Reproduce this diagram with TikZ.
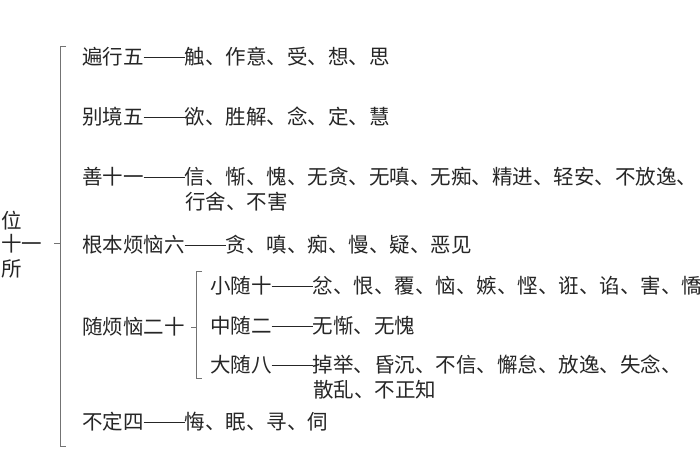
\documentclass[tikz,border=0pt]{standalone}
\usepackage{fontspec}
\newfontfamily\cjk{Noto Sans CJK SC}
\newcommand{\dd}{\rule[0.36em]{2em}{0.7pt}}
\begin{document}
\begin{tikzpicture}[x=1pt,y=-1pt,
  t/.style={anchor=west,inner sep=0pt,font=\cjk\fontsize{20.5}{24}\selectfont,text=black!85},
  br/.style={draw=black!55,line width=0.9pt}]
\useasboundingbox (0,0) rectangle (700,470);
\clip (0,0) rectangle (700,470);
\fill[white] (0,0) rectangle (700,470);
\node[t,anchor=center] (w1) at (12,221) {位};
\node[t,anchor=center] (w2) at (22,244) {十一};
\node[t,anchor=center] (w3) at (12,269) {所};
\coordinate (bt) at (66,46);
\coordinate (bb) at (66,446);
\coordinate (bm) at (60,243);
\draw[br] (bt) -- ++(-6,0) -- (60,446) -- (bb);
\draw[br] (bm) -- ++(-6,0);
\node[t] (a) at (82,57) {遍行五\dd 触、作意、受、想、思};
\node[t] (b) at (82,117) {别境五\dd 欲、胜解、念、定、慧};
\node[t] (c) at (82,177) {善十一\dd 信、惭、愧、无贪、无嗔、无痴、精进、轻安、不放逸、};
\node[t] (c2) at (185,202) {行舍、不害};
\node[t] (d) at (82,245) {根本烦恼六\dd 贪、嗔、痴、慢、疑、恶见};
\node[t] (e) at (82,327) {随烦恼二十};
\coordinate (st) at (202,271);
\coordinate (sb) at (202,378);
\coordinate (sm) at (196,327);
\draw[br] (st) -- (196,271) -- (196,378) -- (sb);
\draw[br] (sm) -- ++(-5,0);
\node[t] (e1) at (210,286) {小随十\dd 忿、恨、覆、恼、嫉、悭、诳、谄、害、憍};
\node[t] (e2) at (210,326) {中随二\dd 无惭、无愧};
\node[t] (e3) at (210,365) {大随八\dd 掉举、昏沉、不信、懈怠、放逸、失念、};
\node[t] (e4) at (313,390) {散乱、不正知};
\node[t] (f) at (82,422) {不定四\dd 悔、眠、寻、伺};
\end{tikzpicture}
\end{document}
